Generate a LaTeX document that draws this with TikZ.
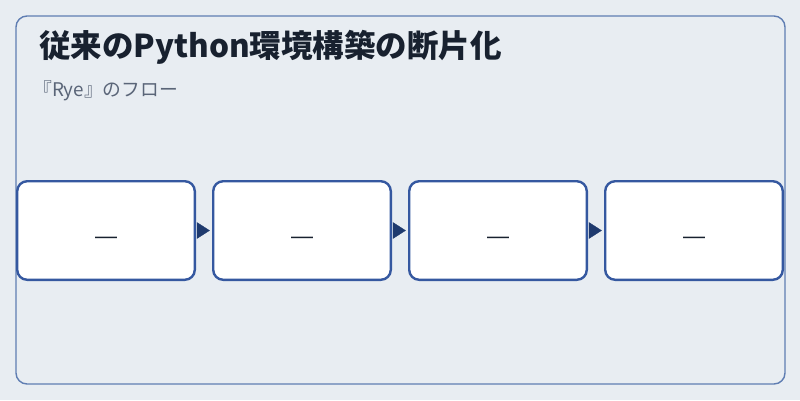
\documentclass[tikz,border=0pt]{standalone}
\usepackage{fontspec}
\setmainfont{Noto Sans CJK JP}
\newfontfamily\dashfont{Liberation Sans}
\usepackage{tikz}
\usetikzlibrary{arrows.meta}
\definecolor{pagebg}{HTML}{E8EDF2}
\definecolor{framecol}{HTML}{5F7DB2}
\definecolor{boxcol}{HTML}{3558A0}
\definecolor{tipcol}{HTML}{1F3A6E}
\definecolor{titlecol}{HTML}{18212F}
\definecolor{subcol}{HTML}{5A6578}

\begin{document}
\begin{tikzpicture}[x=1pt, y=-1pt,
        stepbox/.style={draw=boxcol, line width=2.4pt, fill=white, rounded corners=10pt,
            minimum width=177.6pt, minimum height=98.6pt, inner sep=0pt},
        dashtxt/.style={text=titlecol, font=\dashfont\fontsize{22}{22}\selectfont, inner sep=0pt},
        flow/.style={draw=tipcol, line width=0.4pt, shorten <=3.2pt, shorten >=2.2pt,
            -{Triangle[length=13pt, width=16.6pt, fill=tipcol, color=tipcol]}}]
        \fill[pagebg] (0, 0) rectangle (800, 400);
        \draw[framecol, line width=1.4pt, rounded corners=11pt] (16, 16) rectangle (785, 384);
        \node[anchor=base west, text=titlecol, font=\fontsize{31.5}{31.5}\selectfont\bfseries, inner sep=0pt] (title) at (39, 57) {従来のPython環境構築の断片化};
        \node[anchor=base west, text=subcol, font=\fontsize{18.8}{18.8}\selectfont, inner sep=0pt] (sub) at (33, 96) {『Rye』のフロー};
        % flow boxes
        \node[stepbox] (B1) at (106, 230.5) {};
        \node[stepbox] (B2) at (302, 230.5) {};
        \node[stepbox] (B3) at (498, 230.5) {};
        \node[stepbox] (B4) at (694, 230.5) {};
        \node[dashtxt] (D1) at (106, 240) {—};
        \node[dashtxt] (D2) at (302, 240) {—};
        \node[dashtxt] (D3) at (498, 240) {—};
        \node[dashtxt] (D4) at (694, 240) {—};
        \draw[flow] (B1) to (B2);
        \draw[flow] (B2) to (B3);
        \draw[flow] (B3) to (B4);
    \end{tikzpicture}
\end{document}
